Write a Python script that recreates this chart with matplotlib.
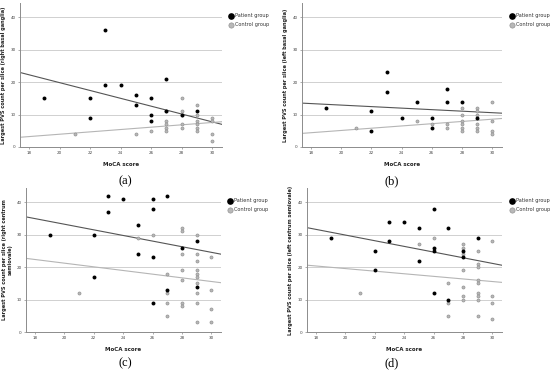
import matplotlib
matplotlib.use("Agg")
import matplotlib.pyplot as plt
import numpy as np

# ---------------- data ----------------
panel_letters = ["(a)", "(b)", "(c)", "(d)"]
ylabels = [
    "Largest PVS count per slice (right basal ganglia)",
    "Largest PVS count per slice (left basal ganglia)",
    "Largest PVS count per slice (right centrum\nsemiovale)",
    "Largest PVS count per slice (left centrum semiovale)",
]
xlabel = "MoCA score"
legend_labels = ["Patient group", "Control group"]
xticks = [18, 20, 22, 24, 26, 28, 30]
yticks = [0, 10, 20, 30, 40]

# panel a
pat_a_x = [19, 22, 22, 23, 23, 24, 25, 25, 26, 26, 26, 27, 27, 28, 29]
pat_a_y = [15, 15, 9, 36, 19, 19, 16, 13, 15, 10, 8, 21, 11, 10, 11]
ctl_a_x = [21, 25, 26, 27, 27, 27, 27, 27, 28, 28, 28, 28, 28, 29, 29, 29, 29, 29, 29, 30, 30, 30, 30]
ctl_a_y = [4, 4, 5, 11, 8, 7, 6, 5, 15, 11, 10, 7, 6, 13, 10, 8, 7, 6, 5, 9, 8, 4, 2]

# panel b
pat_b_x = [19, 22, 22, 23, 23, 24, 25, 26, 26, 27, 27, 28, 29]
pat_b_y = [12, 11, 5, 23, 17, 9, 14, 9, 6, 18, 14, 14, 9]
ctl_b_x = [21, 25, 26, 27, 27, 28, 28, 28, 28, 28, 28, 29, 29, 29, 29, 29, 29, 30, 30, 30, 30]
ctl_b_y = [6, 8, 7, 7, 6, 12, 10, 8, 7, 6, 5, 12, 11, 10, 7, 6, 5, 14, 8, 5, 4]

# panel c
pat_c_x = [19, 22, 22, 23, 23, 24, 25, 25, 26, 26, 26, 26, 27, 27, 28, 29, 29]
pat_c_y = [30, 30, 17, 42, 37, 41, 33, 24, 41, 38, 23, 9, 42, 13, 26, 28, 14]
ctl_c_x = [21, 25, 26, 27, 27, 27, 27, 28, 28, 28, 28, 28, 28, 28,
           29, 29, 29, 29, 29, 29, 29, 29, 29, 29, 30, 30, 30, 30]
ctl_c_y = [12, 29, 30, 18, 12, 9, 5, 32, 31, 24, 19, 16, 9, 8,
           30, 24, 22, 19, 18, 17, 15, 12, 9, 3, 23, 13, 7, 3]

# panel d
pat_d_x = [19, 22, 22, 23, 23, 24, 25, 25, 26, 26, 26, 26, 27, 27, 28, 28, 29]
pat_d_y = [29, 25, 19, 34, 28, 34, 32, 22, 38, 26, 25, 12, 32, 10, 25, 23, 29]
ctl_d_x = [21, 25, 26, 27, 27, 27, 28, 28, 28, 28, 28, 28, 28,
           29, 29, 29, 29, 29, 29, 29, 29, 29, 30, 30, 30, 30]
ctl_d_y = [12, 27, 29, 15, 9, 5, 27, 26, 24, 19, 14, 11, 10,
           25, 21, 20, 16, 15, 12, 11, 10, 5, 28, 11, 9, 4]

# fitted lines (intercept, slope)
pat_fit_intercept = [44.0, 17.6, 50.6, 47.4]
pat_fit_slope = [-1.208, -0.234, -0.868, -0.875]
ctl_fit_intercept = [-3.3, -1.84, 32.55, 27.56]
ctl_fit_slope = [0.362, 0.347, -0.566, -0.40]

patients = [(pat_a_x, pat_a_y), (pat_b_x, pat_b_y), (pat_c_x, pat_c_y), (pat_d_x, pat_d_y)]
controls = [(ctl_a_x, ctl_a_y), (ctl_b_x, ctl_b_y), (ctl_c_x, ctl_c_y), (ctl_d_x, ctl_d_y)]

# ---------------- layout ----------------
W, H = 550, 374
fig = plt.figure(figsize=(W / 100, H / 100), dpi=100)
fig.patch.set_facecolor("white")

def px_rect(l, r, top, bottom):
    return [l / W, 1 - bottom / H, (r - l) / W, (bottom - top) / H]

axes_rects = [
    px_rect(20, 222, 3, 147),
    px_rect(302, 502, 3, 147),
    px_rect(26, 221, 188, 332),
    px_rect(307, 502, 188, 332),
]
legend_anchor_px = [(229, 13), (510, 13), (228, 198), (510, 198)]
caption_px = [(125, 181), (392, 181), (125, 363), (392, 363)]

xmin, xmax = 17.4, 30.65
ymin, ymax = 0, 44.4
spine_col = "#8c8c8c"
grid_col = "#d0d0d0"

for i in range(4):
    ax = fig.add_axes(axes_rects[i])
    ax.set_xlim(xmin, xmax)
    ax.set_ylim(ymin, ymax)
    for s in ["top", "right"]:
        ax.spines[s].set_visible(False)
    for s in ["left", "bottom"]:
        ax.spines[s].set_color(spine_col)
        ax.spines[s].set_linewidth(0.7)
    ax.set_xticks(xticks)
    ax.set_yticks(yticks)
    ax.tick_params(axis="both", labelsize=3, length=1.5, width=0.5,
                   colors=spine_col, labelcolor="#444444", pad=1.5)
    for yv in yticks[1:]:
        ax.axhline(yv, color=grid_col, lw=0.7, zorder=0)

    xs = np.array([xmin, xmax])
    ax.plot(xs, pat_fit_intercept[i] + pat_fit_slope[i] * xs, color="#555555", lw=0.8, zorder=2)
    ax.plot(xs, ctl_fit_intercept[i] + ctl_fit_slope[i] * xs, color="#b5b5b5", lw=0.8, zorder=2)

    cx, cy = controls[i]
    px_, py_ = patients[i]
    hc = ax.scatter(cx, cy, s=5, facecolor="#b8b8b8", edgecolor="#8a8a8a", linewidth=0.4, zorder=3)
    hp = ax.scatter(px_, py_, s=8, color="black", linewidth=0, zorder=4)

    ax.set_xlabel(xlabel, fontsize=4, fontweight="bold", labelpad=5, color="#222222")
    ax.set_ylabel(ylabels[i], fontsize=3.6, fontweight="bold", labelpad=3, color="#222222",
                  linespacing=1.0)

    lx, ly = legend_anchor_px[i]
    leg = fig.legend([hp, hc], legend_labels, loc="upper left",
                     bbox_to_anchor=(lx / W, 1 - ly / H), frameon=False,
                     fontsize=3.6, handlelength=0.6, handletextpad=0.6,
                     labelspacing=0.8, borderpad=0, borderaxespad=0,
                     markerscale=1.7)
    for t in leg.get_texts():
        t.set_color("#333333")

    cxp, cyp = caption_px[i]
    fig.text(cxp / W, 1 - cyp / H, panel_letters[i], ha="center", va="center",
             fontsize=9, family="Liberation Serif")

fig.savefig("out.png", dpi=100)
